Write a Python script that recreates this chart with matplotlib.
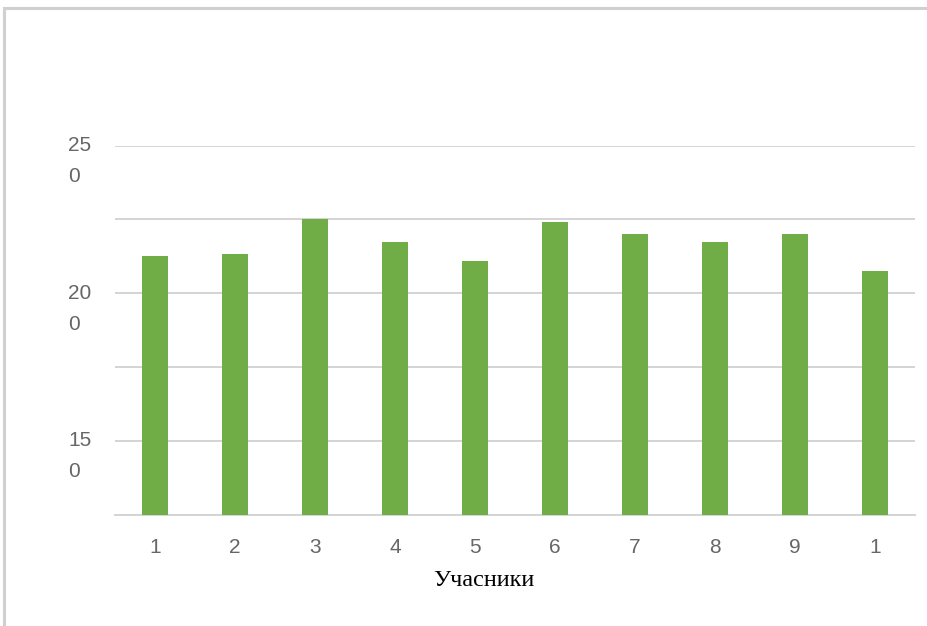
import matplotlib
matplotlib.use("Agg")
import matplotlib.pyplot as plt
from matplotlib.transforms import blended_transform_factory, ScaledTranslation
from matplotlib.patches import Rectangle

# participant scores
categories = ["1", "2", "3", "4", "5", "6", "7", "8", "9", "1"]
values = [212.7, 213.4, 225.2, 217.3, 210.9, 224.0, 220.0, 217.3, 220.0, 207.4]
grid_levels = [125, 150, 175, 200, 225, 250]
ylabel_values = [250, 200, 150]
ylabel_lines = [("25", "0"), ("20", "0"), ("15", "0")]
xlabel = "Учасники"

W, H = 928, 626
fig = plt.figure(figsize=(W / 100, H / 100), dpi=100)
fig.patch.set_facecolor("white")

# outer chart frame (only top and left edges visible)
fig.patches.append(Rectangle((4 / W, -0.1), 1.2, 1.1 - 8 / H,
                             transform=fig.transFigure, fill=False,
                             edgecolor="#d0d0d0", lw=2.2, zorder=0))

ax = fig.add_axes([115 / W, 1 - 514.5 / H, 800 / W, (514.5 - 145.7) / H])
x = list(range(len(values)))
ax.bar(x, values, width=0.325, color="#70AD47", zorder=3)

ax.set_xlim(-0.5, len(values) - 0.5)
ax.set_ylim(125, 250)
ax.set_yticks(grid_levels)
ax.set_yticklabels([])
ax.tick_params(axis="y", length=0)
ax.grid(axis="y", color="#d4d4d4", lw=1.4, zorder=0)
ax.set_axisbelow(True)
for s in ["top", "right", "left"]:
    ax.spines[s].set_visible(False)
ax.spines["bottom"].set_color("#d4d4d4")
ax.spines["bottom"].set_linewidth(1.4)

ax.set_xticks(x)
ax.set_xticklabels(categories, fontsize=15, color="#666666",
                   family="Liberation Sans")
ax.tick_params(axis="x", length=0, pad=17)

# wrapped y labels: first line on the gridline, second line below it
trans = blended_transform_factory(fig.transFigure, ax.transData)
for v, (l1, l2) in zip(ylabel_values, ylabel_lines):
    ax.text(68 / W, v, l1, transform=trans, ha="left", va="center",
            fontsize=15, color="#666666", family="Liberation Sans")
    ax.text(68 / W, v, l2,
            transform=trans + ScaledTranslation(0, -31 / 100, fig.dpi_scale_trans),
            ha="left", va="center", fontsize=15, color="#666666",
            family="Liberation Sans")

fig.text(484 / W, 1 - 581 / H, xlabel, ha="center", va="center",
         fontsize=17.5, color="#000000", family="Liberation Serif")

fig.savefig("out.png", dpi=100)
